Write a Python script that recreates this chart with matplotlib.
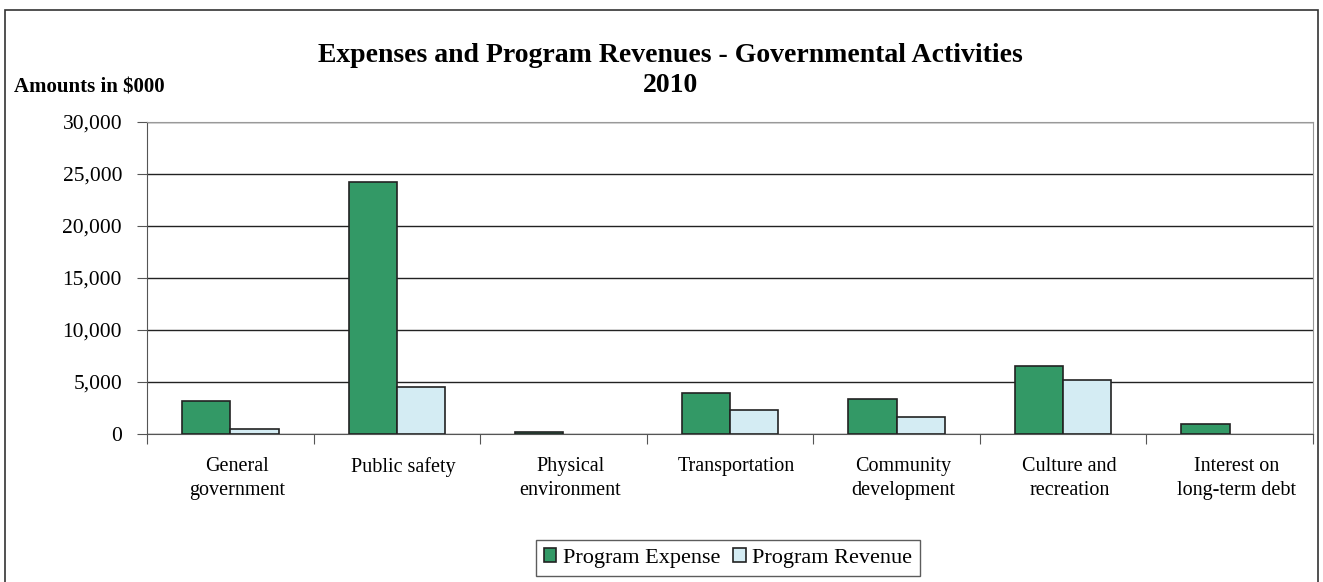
import numpy as np
import matplotlib.pyplot as plt
from matplotlib.patches import Rectangle

categories = ['General\ngovernment', 'Public safety', 'Physical\nenvironment',
              'Transportation', 'Community\ndevelopment', 'Culture and\nrecreation',
              'Interest on\nlong-term debt']
program_expense = [3170, 24230, 200, 3970, 3370, 6540, 960]
program_revenue = [480, 4520, 0, 2300, 1630, 5190, 0]

plt.rcParams['font.family'] = ['Liberation Serif', 'DejaVu Serif']

W, H = 1323, 582
fig = plt.figure(figsize=(W / 100, H / 100), dpi=100)
ax = fig.add_axes([147 / W, 1 - 434 / H, 1166 / W, 312 / H])

x = np.arange(len(categories))
w = 0.29
# no outline on empty bars so nothing shows where a value is zero
ax.bar(x - w / 2, program_expense, w, color='#339966', edgecolor='#222222',
       linewidth=[1.2 if v > 0 else 0 for v in program_expense],
       label='Program Expense', zorder=3)
ax.bar(x + w / 2, program_revenue, w, color='#d4ecf3', edgecolor='#222222',
       linewidth=[1.2 if v > 0 else 0 for v in program_revenue],
       label='Program Revenue', zorder=3)

ax.set_xlim(-0.5, len(categories) - 0.5)
ax.set_ylim(0, 30000)
ax.set_yticks(range(0, 30001, 5000))
ax.set_yticklabels([f'{v:,}' for v in range(0, 30001, 5000)], fontsize=15.5)
ax.yaxis.grid(True, color='#222222', linewidth=1.0, zorder=0)
ax.tick_params(axis='y', length=7, color='#555555', pad=11)

# category ticks sit on the group boundaries, labels in between
ax.set_xticks(np.arange(len(categories) + 1) - 0.5)
ax.set_xticklabels([])
ax.tick_params(axis='x', length=7, color='#555555')
for i, lab in enumerate(categories):
    ax.text(i + 0.04, -2250, lab, ha='center', va='top', fontsize=14.5,
            linespacing=1.3)

ax.spines['left'].set_color('#555555')
ax.spines['bottom'].set_color('#555555')
ax.spines['top'].set_color('#999999')
ax.spines['right'].set_color('#999999')

fig.text(670 / W, 1 - 55 / H, 'Expenses and Program Revenues - Governmental Activities',
         ha='center', va='center', fontsize=20, fontweight='bold')
fig.text(670 / W, 1 - 86 / H, '2010', ha='center', va='center',
         fontsize=20, fontweight='bold')
fig.text(14 / W, 1 - 87 / H, 'Amounts in $000', ha='left', va='center',
         fontsize=15, fontweight='bold')

fig.legend(loc='center', bbox_to_anchor=(728 / W, 1 - 558 / H), ncol=2,
           fontsize=16, frameon=True, fancybox=False, edgecolor='#333333',
           handlelength=0.55, handleheight=0.55, handletextpad=0.3,
           columnspacing=0.6, borderpad=0.35)

fig.patches.append(Rectangle((5 / W, -0.05), 1313 / W, 1.05 - 10 / H,
                             transform=fig.transFigure, fill=False,
                             edgecolor='#333333', linewidth=1.2))

fig.savefig('out.png', dpi=100)
